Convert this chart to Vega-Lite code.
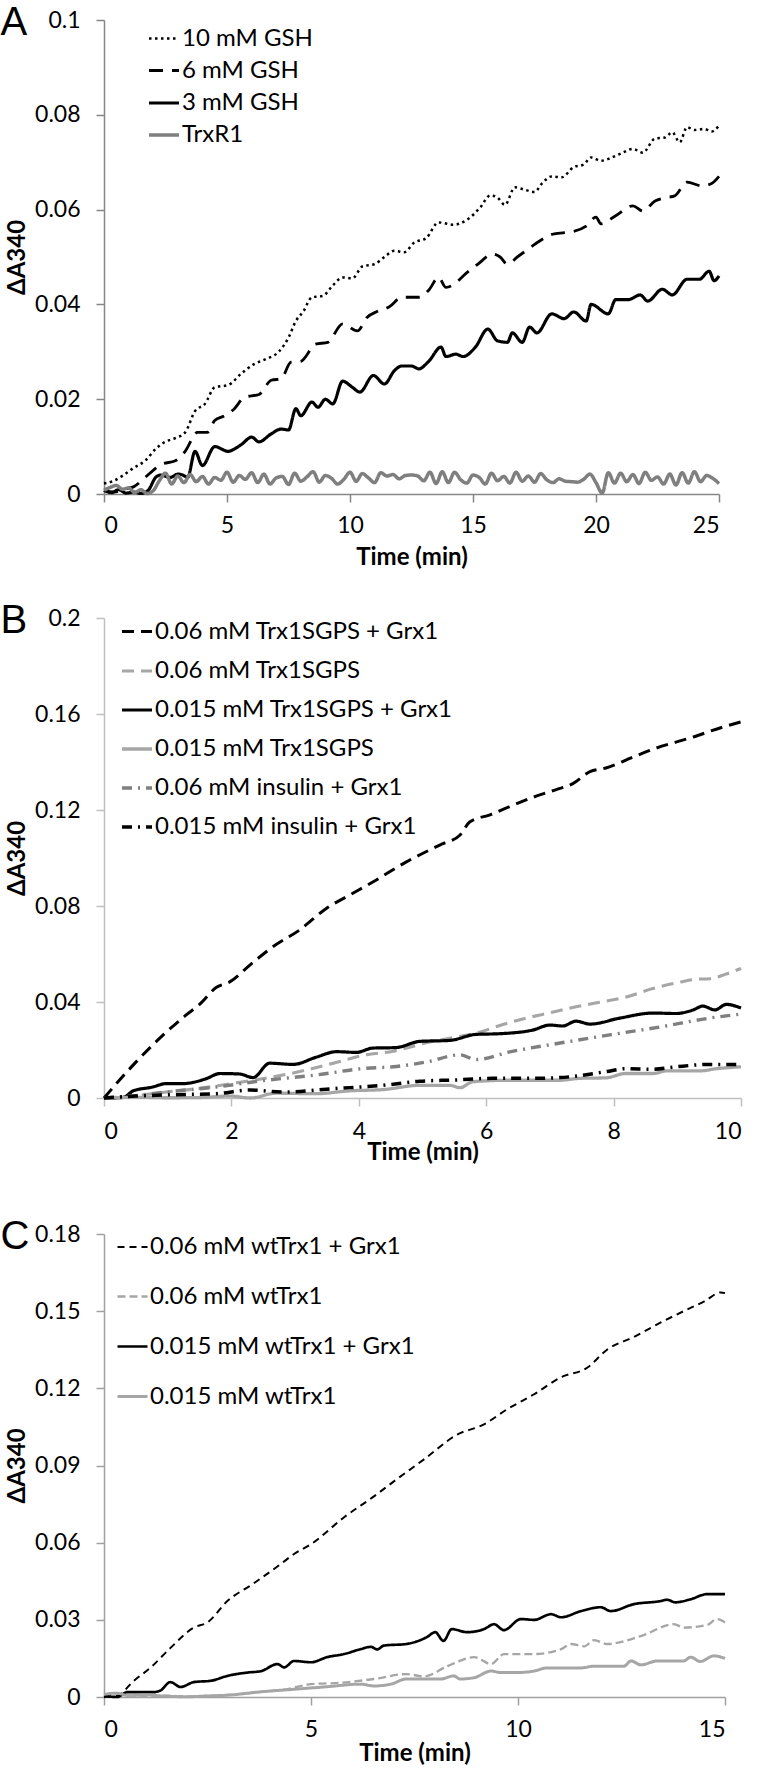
{
"$schema": "https://vega.github.io/schema/vega-lite/v6.json",
"padding": {"left": 0, "top": 3, "right": 0, "bottom": 0},
"background": "white",
"config": {
 "font": "Lato",
 "view": {"stroke": null},
 "axis": {"grid": false, "labelFont": "Lato", "labelFontSize": 23, "labelColor": "#000", "titleFont": "Lato", "titleFontSize": 24, "titleFontWeight": "bold", "titleColor": "#000", "tickSize": 8, "domainWidth": 1.5, "tickWidth": 1.5},
 "axisX": {"labelPadding": 12, "titlePadding": 6},
 "axisY": {"labelPadding": 16, "titlePadding": 5},
 "title": {"font": "Liberation Sans", "fontSize": 40, "fontWeight": "normal", "anchor": "start", "frame": "bounds", "offset": 0, "color": "#000"},
 "legend": {"title": null, "orient": "none", "symbolType": "stroke", "symbolSize": 900, "labelFont": "Lato", "labelFontSize": 24, "labelColor": "#000", "labelOffset": 1, "padding": 0, "labelLimit": 600}
},
"datasets": {
"A": [
{"s":"10 mM GSH","t":0,"v":0.0022},{"s":"10 mM GSH","t":0.4,"v":0.0028},{"s":"10 mM GSH","t":0.8,"v":0.004},{"s":"10 mM GSH","t":1.2,"v":0.0055},{"s":"10 mM GSH","t":1.67,"v":0.007},{"s":"10 mM GSH","t":2.1,"v":0.0095},{"s":"10 mM GSH","t":2.48,"v":0.011},{"s":"10 mM GSH","t":2.9,"v":0.0118},{"s":"10 mM GSH","t":3.3,"v":0.013},{"s":"10 mM GSH","t":3.7,"v":0.0175},{"s":"10 mM GSH","t":4.1,"v":0.019},{"s":"10 mM GSH","t":4.5,"v":0.0225},{"s":"10 mM GSH","t":5.05,"v":0.023},{"s":"10 mM GSH","t":5.6,"v":0.0255},{"s":"10 mM GSH","t":6.1,"v":0.0274},{"s":"10 mM GSH","t":6.6,"v":0.0285},{"s":"10 mM GSH","t":7.1,"v":0.03},{"s":"10 mM GSH","t":7.5,"v":0.033},{"s":"10 mM GSH","t":7.8,"v":0.0365},{"s":"10 mM GSH","t":8.1,"v":0.0385},{"s":"10 mM GSH","t":8.45,"v":0.0415},{"s":"10 mM GSH","t":8.9,"v":0.0418},{"s":"10 mM GSH","t":9.3,"v":0.044},{"s":"10 mM GSH","t":9.7,"v":0.0457},{"s":"10 mM GSH","t":10.1,"v":0.0455},{"s":"10 mM GSH","t":10.5,"v":0.048},{"s":"10 mM GSH","t":11,"v":0.0485},{"s":"10 mM GSH","t":11.4,"v":0.05},{"s":"10 mM GSH","t":11.8,"v":0.0513},{"s":"10 mM GSH","t":12.2,"v":0.051},{"s":"10 mM GSH","t":12.6,"v":0.053},{"s":"10 mM GSH","t":13.1,"v":0.054},{"s":"10 mM GSH","t":13.6,"v":0.0573},{"s":"10 mM GSH","t":14.2,"v":0.0568},{"s":"10 mM GSH","t":14.8,"v":0.058},{"s":"10 mM GSH","t":15.3,"v":0.0605},{"s":"10 mM GSH","t":15.7,"v":0.063},{"s":"10 mM GSH","t":16,"v":0.0625},{"s":"10 mM GSH","t":16.3,"v":0.061},{"s":"10 mM GSH","t":16.7,"v":0.0647},{"s":"10 mM GSH","t":17.1,"v":0.0642},{"s":"10 mM GSH","t":17.5,"v":0.0637},{"s":"10 mM GSH","t":17.8,"v":0.0655},{"s":"10 mM GSH","t":18.2,"v":0.067},{"s":"10 mM GSH","t":18.6,"v":0.0668},{"s":"10 mM GSH","t":19.1,"v":0.069},{"s":"10 mM GSH","t":19.5,"v":0.0695},{"s":"10 mM GSH","t":19.8,"v":0.071},{"s":"10 mM GSH","t":20.2,"v":0.0703},{"s":"10 mM GSH","t":20.5,"v":0.0707},{"s":"10 mM GSH","t":21,"v":0.0718},{"s":"10 mM GSH","t":21.5,"v":0.0728},{"s":"10 mM GSH","t":21.9,"v":0.072},{"s":"10 mM GSH","t":22.4,"v":0.075},{"s":"10 mM GSH","t":22.8,"v":0.0752},{"s":"10 mM GSH","t":23.1,"v":0.0763},{"s":"10 mM GSH","t":23.4,"v":0.0742},{"s":"10 mM GSH","t":23.7,"v":0.0774},{"s":"10 mM GSH","t":24,"v":0.0768},{"s":"10 mM GSH","t":24.4,"v":0.077},{"s":"10 mM GSH","t":24.7,"v":0.0765},{"s":"10 mM GSH","t":25,"v":0.0777},
{"s":"6 mM GSH","t":0,"v":0.0007},{"s":"6 mM GSH","t":0.4,"v":0.0004},{"s":"6 mM GSH","t":0.8,"v":0.001},{"s":"6 mM GSH","t":1.2,"v":0.0015},{"s":"6 mM GSH","t":1.67,"v":0.0035},{"s":"6 mM GSH","t":2,"v":0.005},{"s":"6 mM GSH","t":2.35,"v":0.0063},{"s":"6 mM GSH","t":2.9,"v":0.007},{"s":"6 mM GSH","t":3.3,"v":0.009},{"s":"6 mM GSH","t":3.8,"v":0.013},{"s":"6 mM GSH","t":4.2,"v":0.013},{"s":"6 mM GSH","t":4.5,"v":0.0155},{"s":"6 mM GSH","t":4.9,"v":0.0165},{"s":"6 mM GSH","t":5.3,"v":0.018},{"s":"6 mM GSH","t":5.7,"v":0.0204},{"s":"6 mM GSH","t":6.3,"v":0.021},{"s":"6 mM GSH","t":6.8,"v":0.024},{"s":"6 mM GSH","t":7.2,"v":0.0243},{"s":"6 mM GSH","t":7.6,"v":0.0278},{"s":"6 mM GSH","t":8,"v":0.028},{"s":"6 mM GSH","t":8.6,"v":0.0316},{"s":"6 mM GSH","t":9.1,"v":0.032},{"s":"6 mM GSH","t":9.7,"v":0.0359},{"s":"6 mM GSH","t":10.3,"v":0.0344},{"s":"6 mM GSH","t":10.7,"v":0.0373},{"s":"6 mM GSH","t":11.1,"v":0.0385},{"s":"6 mM GSH","t":11.6,"v":0.0395},{"s":"6 mM GSH","t":12.1,"v":0.0415},{"s":"6 mM GSH","t":12.8,"v":0.0415},{"s":"6 mM GSH","t":13.2,"v":0.043},{"s":"6 mM GSH","t":13.6,"v":0.0457},{"s":"6 mM GSH","t":13.9,"v":0.0436},{"s":"6 mM GSH","t":14.3,"v":0.0445},{"s":"6 mM GSH","t":14.6,"v":0.046},{"s":"6 mM GSH","t":15.2,"v":0.0485},{"s":"6 mM GSH","t":15.8,"v":0.0506},{"s":"6 mM GSH","t":16.1,"v":0.05},{"s":"6 mM GSH","t":16.4,"v":0.0485},{"s":"6 mM GSH","t":16.8,"v":0.05},{"s":"6 mM GSH","t":17.2,"v":0.0515},{"s":"6 mM GSH","t":17.6,"v":0.053},{"s":"6 mM GSH","t":18.3,"v":0.0549},{"s":"6 mM GSH","t":19,"v":0.0553},{"s":"6 mM GSH","t":19.6,"v":0.0565},{"s":"6 mM GSH","t":20,"v":0.0584},{"s":"6 mM GSH","t":20.2,"v":0.057},{"s":"6 mM GSH","t":20.8,"v":0.0587},{"s":"6 mM GSH","t":21.5,"v":0.0608},{"s":"6 mM GSH","t":21.9,"v":0.0597},{"s":"6 mM GSH","t":22.4,"v":0.0618},{"s":"6 mM GSH","t":22.8,"v":0.0625},{"s":"6 mM GSH","t":23.2,"v":0.0629},{"s":"6 mM GSH","t":23.7,"v":0.0658},{"s":"6 mM GSH","t":24.3,"v":0.065},{"s":"6 mM GSH","t":24.7,"v":0.0655},{"s":"6 mM GSH","t":25,"v":0.067},
{"s":"3 mM GSH","t":0,"v":0.0008},{"s":"3 mM GSH","t":0.3,"v":0.0003},{"s":"3 mM GSH","t":0.6,"v":0.0009},{"s":"3 mM GSH","t":0.9,"v":0.0002},{"s":"3 mM GSH","t":1.2,"v":0.0004},{"s":"3 mM GSH","t":1.5,"v":0.0001},{"s":"3 mM GSH","t":1.8,"v":0.0008},{"s":"3 mM GSH","t":2.1,"v":0.0035},{"s":"3 mM GSH","t":2.3,"v":0.004},{"s":"3 mM GSH","t":2.7,"v":0.0035},{"s":"3 mM GSH","t":3,"v":0.0042},{"s":"3 mM GSH","t":3.2,"v":0.004},{"s":"3 mM GSH","t":3.4,"v":0.0035},{"s":"3 mM GSH","t":3.7,"v":0.009},{"s":"3 mM GSH","t":4,"v":0.006},{"s":"3 mM GSH","t":4.5,"v":0.01},{"s":"3 mM GSH","t":5.05,"v":0.009},{"s":"3 mM GSH","t":5.3,"v":0.0095},{"s":"3 mM GSH","t":5.6,"v":0.0105},{"s":"3 mM GSH","t":6,"v":0.012},{"s":"3 mM GSH","t":6.3,"v":0.011},{"s":"3 mM GSH","t":6.8,"v":0.0127},{"s":"3 mM GSH","t":7.2,"v":0.0137},{"s":"3 mM GSH","t":7.5,"v":0.0135},{"s":"3 mM GSH","t":7.8,"v":0.018},{"s":"3 mM GSH","t":8,"v":0.0165},{"s":"3 mM GSH","t":8.45,"v":0.0194},{"s":"3 mM GSH","t":8.7,"v":0.0183},{"s":"3 mM GSH","t":9,"v":0.02},{"s":"3 mM GSH","t":9.3,"v":0.019},{"s":"3 mM GSH","t":9.7,"v":0.0238},{"s":"3 mM GSH","t":10.1,"v":0.0225},{"s":"3 mM GSH","t":10.4,"v":0.0215},{"s":"3 mM GSH","t":10.95,"v":0.025},{"s":"3 mM GSH","t":11.4,"v":0.0232},{"s":"3 mM GSH","t":11.8,"v":0.026},{"s":"3 mM GSH","t":12.1,"v":0.027},{"s":"3 mM GSH","t":12.5,"v":0.027},{"s":"3 mM GSH","t":12.8,"v":0.0264},{"s":"3 mM GSH","t":13.2,"v":0.028},{"s":"3 mM GSH","t":13.7,"v":0.031},{"s":"3 mM GSH","t":13.9,"v":0.029},{"s":"3 mM GSH","t":14.3,"v":0.0295},{"s":"3 mM GSH","t":14.6,"v":0.029},{"s":"3 mM GSH","t":15.1,"v":0.031},{"s":"3 mM GSH","t":15.6,"v":0.0348},{"s":"3 mM GSH","t":16,"v":0.0323},{"s":"3 mM GSH","t":16.4,"v":0.032},{"s":"3 mM GSH","t":16.6,"v":0.034},{"s":"3 mM GSH","t":17,"v":0.032},{"s":"3 mM GSH","t":17.3,"v":0.0352},{"s":"3 mM GSH","t":17.6,"v":0.034},{"s":"3 mM GSH","t":18.2,"v":0.038},{"s":"3 mM GSH","t":18.7,"v":0.037},{"s":"3 mM GSH","t":19.1,"v":0.0384},{"s":"3 mM GSH","t":19.6,"v":0.0365},{"s":"3 mM GSH","t":19.8,"v":0.04},{"s":"3 mM GSH","t":20.5,"v":0.038},{"s":"3 mM GSH","t":20.8,"v":0.041},{"s":"3 mM GSH","t":21.3,"v":0.041},{"s":"3 mM GSH","t":21.8,"v":0.042},{"s":"3 mM GSH","t":22.1,"v":0.0407},{"s":"3 mM GSH","t":22.7,"v":0.0432},{"s":"3 mM GSH","t":23.1,"v":0.042},{"s":"3 mM GSH","t":23.7,"v":0.0453},{"s":"3 mM GSH","t":24.2,"v":0.0453},{"s":"3 mM GSH","t":24.6,"v":0.047},{"s":"3 mM GSH","t":24.8,"v":0.045},{"s":"3 mM GSH","t":25,"v":0.046},
{"s":"TrxR1","t":0,"v":0.0008},{"s":"TrxR1","t":0.25,"v":0.0014},{"s":"TrxR1","t":0.5,"v":0.0018},{"s":"TrxR1","t":0.75,"v":0.001},{"s":"TrxR1","t":1,"v":0.0013},{"s":"TrxR1","t":1.25,"v":0.0003},{"s":"TrxR1","t":1.5,"v":0.0009},{"s":"TrxR1","t":1.75,"v":0.0001},{"s":"TrxR1","t":2,"v":0.0007},{"s":"TrxR1","t":2.25,"v":0.0028},{"s":"TrxR1","t":2.5,"v":0.0044},{"s":"TrxR1","t":2.75,"v":0.0021},{"s":"TrxR1","t":3,"v":0.0038},{"s":"TrxR1","t":3.25,"v":0.0024},{"s":"TrxR1","t":3.5,"v":0.0041},{"s":"TrxR1","t":3.75,"v":0.0026},{"s":"TrxR1","t":4,"v":0.0037},{"s":"TrxR1","t":4.25,"v":0.0021},{"s":"TrxR1","t":4.5,"v":0.0035},{"s":"TrxR1","t":4.75,"v":0.0029},{"s":"TrxR1","t":5,"v":0.0046},{"s":"TrxR1","t":5.25,"v":0.0025},{"s":"TrxR1","t":5.5,"v":0.0039},{"s":"TrxR1","t":5.75,"v":0.0031},{"s":"TrxR1","t":6,"v":0.0045},{"s":"TrxR1","t":6.25,"v":0.0024},{"s":"TrxR1","t":6.5,"v":0.0042},{"s":"TrxR1","t":6.75,"v":0.0021},{"s":"TrxR1","t":7,"v":0.0034},{"s":"TrxR1","t":7.25,"v":0.0037},{"s":"TrxR1","t":7.5,"v":0.002},{"s":"TrxR1","t":7.75,"v":0.0044},{"s":"TrxR1","t":8,"v":0.0027},{"s":"TrxR1","t":8.25,"v":0.0036},{"s":"TrxR1","t":8.5,"v":0.0047},{"s":"TrxR1","t":8.75,"v":0.0025},{"s":"TrxR1","t":9,"v":0.0039},{"s":"TrxR1","t":9.25,"v":0.0033},{"s":"TrxR1","t":9.5,"v":0.0021},{"s":"TrxR1","t":9.75,"v":0.0031},{"s":"TrxR1","t":10,"v":0.0046},{"s":"TrxR1","t":10.25,"v":0.0027},{"s":"TrxR1","t":10.5,"v":0.0043},{"s":"TrxR1","t":10.75,"v":0.0034},{"s":"TrxR1","t":11,"v":0.0024},{"s":"TrxR1","t":11.25,"v":0.0045},{"s":"TrxR1","t":11.5,"v":0.0038},{"s":"TrxR1","t":11.75,"v":0.0041},{"s":"TrxR1","t":12,"v":0.0032},{"s":"TrxR1","t":12.25,"v":0.0039},{"s":"TrxR1","t":12.5,"v":0.004},{"s":"TrxR1","t":12.75,"v":0.0038},{"s":"TrxR1","t":13,"v":0.0028},{"s":"TrxR1","t":13.25,"v":0.0046},{"s":"TrxR1","t":13.5,"v":0.0022},{"s":"TrxR1","t":13.75,"v":0.0047},{"s":"TrxR1","t":14,"v":0.0024},{"s":"TrxR1","t":14.25,"v":0.0046},{"s":"TrxR1","t":14.5,"v":0.003},{"s":"TrxR1","t":14.75,"v":0.0023},{"s":"TrxR1","t":15,"v":0.004},{"s":"TrxR1","t":15.25,"v":0.0035},{"s":"TrxR1","t":15.5,"v":0.0021},{"s":"TrxR1","t":15.75,"v":0.0044},{"s":"TrxR1","t":16,"v":0.0028},{"s":"TrxR1","t":16.25,"v":0.0037},{"s":"TrxR1","t":16.5,"v":0.0023},{"s":"TrxR1","t":16.75,"v":0.0046},{"s":"TrxR1","t":17,"v":0.0027},{"s":"TrxR1","t":17.25,"v":0.0038},{"s":"TrxR1","t":17.5,"v":0.0025},{"s":"TrxR1","t":17.75,"v":0.0043},{"s":"TrxR1","t":18,"v":0.003},{"s":"TrxR1","t":18.25,"v":0.0024},{"s":"TrxR1","t":18.5,"v":0.0032},{"s":"TrxR1","t":18.75,"v":0.0027},{"s":"TrxR1","t":19,"v":0.0026},{"s":"TrxR1","t":19.25,"v":0.0025},{"s":"TrxR1","t":19.5,"v":0.0031},{"s":"TrxR1","t":19.75,"v":0.0042},{"s":"TrxR1","t":20,"v":0.0024},{"s":"TrxR1","t":20.25,"v":0.0002},{"s":"TrxR1","t":20.5,"v":0.0045},{"s":"TrxR1","t":20.75,"v":0.0023},{"s":"TrxR1","t":21,"v":0.0044},{"s":"TrxR1","t":21.25,"v":0.0026},{"s":"TrxR1","t":21.5,"v":0.0041},{"s":"TrxR1","t":21.75,"v":0.0022},{"s":"TrxR1","t":22,"v":0.0046},{"s":"TrxR1","t":22.25,"v":0.0029},{"s":"TrxR1","t":22.5,"v":0.0036},{"s":"TrxR1","t":22.75,"v":0.0021},{"s":"TrxR1","t":23,"v":0.0042},{"s":"TrxR1","t":23.25,"v":0.0019},{"s":"TrxR1","t":23.5,"v":0.0045},{"s":"TrxR1","t":23.75,"v":0.0023},{"s":"TrxR1","t":24,"v":0.0047},{"s":"TrxR1","t":24.25,"v":0.0026},{"s":"TrxR1","t":24.5,"v":0.0039},{"s":"TrxR1","t":24.75,"v":0.0033},{"s":"TrxR1","t":25,"v":0.0022}
],
"B": [
{"s":"0.06 mM Trx1SGPS + Grx1","t":0,"v":0},{"s":"0.06 mM Trx1SGPS + Grx1","t":0.46,"v":0.0138},{"s":"0.06 mM Trx1SGPS + Grx1","t":0.98,"v":0.0275},{"s":"0.06 mM Trx1SGPS + Grx1","t":1.29,"v":0.0346},{"s":"0.06 mM Trx1SGPS + Grx1","t":1.5,"v":0.039},{"s":"0.06 mM Trx1SGPS + Grx1","t":1.76,"v":0.046},{"s":"0.06 mM Trx1SGPS + Grx1","t":1.98,"v":0.0485},{"s":"0.06 mM Trx1SGPS + Grx1","t":2.29,"v":0.0554},{"s":"0.06 mM Trx1SGPS + Grx1","t":2.65,"v":0.063},{"s":"0.06 mM Trx1SGPS + Grx1","t":3.07,"v":0.07},{"s":"0.06 mM Trx1SGPS + Grx1","t":3.49,"v":0.079},{"s":"0.06 mM Trx1SGPS + Grx1","t":3.85,"v":0.0845},{"s":"0.06 mM Trx1SGPS + Grx1","t":4.22,"v":0.09},{"s":"0.06 mM Trx1SGPS + Grx1","t":4.74,"v":0.0983},{"s":"0.06 mM Trx1SGPS + Grx1","t":5.27,"v":0.1054},{"s":"0.06 mM Trx1SGPS + Grx1","t":5.59,"v":0.1096},{"s":"0.06 mM Trx1SGPS + Grx1","t":5.74,"v":0.115},{"s":"0.06 mM Trx1SGPS + Grx1","t":6.06,"v":0.118},{"s":"0.06 mM Trx1SGPS + Grx1","t":6.42,"v":0.122},{"s":"0.06 mM Trx1SGPS + Grx1","t":6.84,"v":0.1263},{"s":"0.06 mM Trx1SGPS + Grx1","t":7.1,"v":0.1285},{"s":"0.06 mM Trx1SGPS + Grx1","t":7.36,"v":0.131},{"s":"0.06 mM Trx1SGPS + Grx1","t":7.63,"v":0.136},{"s":"0.06 mM Trx1SGPS + Grx1","t":7.88,"v":0.1375},{"s":"0.06 mM Trx1SGPS + Grx1","t":8.3,"v":0.142},{"s":"0.06 mM Trx1SGPS + Grx1","t":8.67,"v":0.1458},{"s":"0.06 mM Trx1SGPS + Grx1","t":9.2,"v":0.15},{"s":"0.06 mM Trx1SGPS + Grx1","t":9.72,"v":0.1546},{"s":"0.06 mM Trx1SGPS + Grx1","t":10,"v":0.1567},
{"s":"0.06 mM Trx1SGPS","t":0,"v":0},{"s":"0.06 mM Trx1SGPS","t":0.5,"v":0.001},{"s":"0.06 mM Trx1SGPS","t":0.98,"v":0.0025},{"s":"0.06 mM Trx1SGPS","t":1.5,"v":0.004},{"s":"0.06 mM Trx1SGPS","t":2,"v":0.006},{"s":"0.06 mM Trx1SGPS","t":2.55,"v":0.0083},{"s":"0.06 mM Trx1SGPS","t":3.07,"v":0.011},{"s":"0.06 mM Trx1SGPS","t":3.6,"v":0.0145},{"s":"0.06 mM Trx1SGPS","t":4.12,"v":0.018},{"s":"0.06 mM Trx1SGPS","t":4.54,"v":0.0195},{"s":"0.06 mM Trx1SGPS","t":5.06,"v":0.023},{"s":"0.06 mM Trx1SGPS","t":5.45,"v":0.025},{"s":"0.06 mM Trx1SGPS","t":5.84,"v":0.027},{"s":"0.06 mM Trx1SGPS","t":6.25,"v":0.0305},{"s":"0.06 mM Trx1SGPS","t":6.63,"v":0.0333},{"s":"0.06 mM Trx1SGPS","t":7,"v":0.0355},{"s":"0.06 mM Trx1SGPS","t":7.41,"v":0.038},{"s":"0.06 mM Trx1SGPS","t":7.8,"v":0.04},{"s":"0.06 mM Trx1SGPS","t":8.19,"v":0.042},{"s":"0.06 mM Trx1SGPS","t":8.6,"v":0.0455},{"s":"0.06 mM Trx1SGPS","t":8.98,"v":0.0479},{"s":"0.06 mM Trx1SGPS","t":9.3,"v":0.0495},{"s":"0.06 mM Trx1SGPS","t":9.51,"v":0.0497},{"s":"0.06 mM Trx1SGPS","t":9.75,"v":0.0515},{"s":"0.06 mM Trx1SGPS","t":10,"v":0.054},
{"s":"0.015 mM Trx1SGPS + Grx1","t":0,"v":0},{"s":"0.015 mM Trx1SGPS + Grx1","t":0.3,"v":0.0002},{"s":"0.015 mM Trx1SGPS + Grx1","t":0.46,"v":0.003},{"s":"0.015 mM Trx1SGPS + Grx1","t":0.75,"v":0.0045},{"s":"0.015 mM Trx1SGPS + Grx1","t":0.98,"v":0.006},{"s":"0.015 mM Trx1SGPS + Grx1","t":1.24,"v":0.006},{"s":"0.015 mM Trx1SGPS + Grx1","t":1.6,"v":0.008},{"s":"0.015 mM Trx1SGPS + Grx1","t":1.82,"v":0.0102},{"s":"0.015 mM Trx1SGPS + Grx1","t":2.13,"v":0.01},{"s":"0.015 mM Trx1SGPS + Grx1","t":2.34,"v":0.0085},{"s":"0.015 mM Trx1SGPS + Grx1","t":2.6,"v":0.0145},{"s":"0.015 mM Trx1SGPS + Grx1","t":2.97,"v":0.014},{"s":"0.015 mM Trx1SGPS + Grx1","t":3.33,"v":0.017},{"s":"0.015 mM Trx1SGPS + Grx1","t":3.65,"v":0.0193},{"s":"0.015 mM Trx1SGPS + Grx1","t":3.96,"v":0.019},{"s":"0.015 mM Trx1SGPS + Grx1","t":4.22,"v":0.0208},{"s":"0.015 mM Trx1SGPS + Grx1","t":4.58,"v":0.021},{"s":"0.015 mM Trx1SGPS + Grx1","t":4.96,"v":0.0236},{"s":"0.015 mM Trx1SGPS + Grx1","t":5.43,"v":0.024},{"s":"0.015 mM Trx1SGPS + Grx1","t":5.84,"v":0.0265},{"s":"0.015 mM Trx1SGPS + Grx1","t":6.22,"v":0.0268},{"s":"0.015 mM Trx1SGPS + Grx1","t":6.73,"v":0.0283},{"s":"0.015 mM Trx1SGPS + Grx1","t":7,"v":0.0304},{"s":"0.015 mM Trx1SGPS + Grx1","t":7.2,"v":0.03},{"s":"0.015 mM Trx1SGPS + Grx1","t":7.41,"v":0.032},{"s":"0.015 mM Trx1SGPS + Grx1","t":7.63,"v":0.0308},{"s":"0.015 mM Trx1SGPS + Grx1","t":8.1,"v":0.0333},{"s":"0.015 mM Trx1SGPS + Grx1","t":8.62,"v":0.0354},{"s":"0.015 mM Trx1SGPS + Grx1","t":8.98,"v":0.0352},{"s":"0.015 mM Trx1SGPS + Grx1","t":9.25,"v":0.0367},{"s":"0.015 mM Trx1SGPS + Grx1","t":9.4,"v":0.0383},{"s":"0.015 mM Trx1SGPS + Grx1","t":9.59,"v":0.0367},{"s":"0.015 mM Trx1SGPS + Grx1","t":9.77,"v":0.039},{"s":"0.015 mM Trx1SGPS + Grx1","t":10,"v":0.0375},
{"s":"0.015 mM Trx1SGPS","t":0,"v":0},{"s":"0.015 mM Trx1SGPS","t":0.5,"v":0.0003},{"s":"0.015 mM Trx1SGPS","t":1,"v":0.0001},{"s":"0.015 mM Trx1SGPS","t":1.5,"v":0.0002},{"s":"0.015 mM Trx1SGPS","t":1.98,"v":0.0008},{"s":"0.015 mM Trx1SGPS","t":2.3,"v":0},{"s":"0.015 mM Trx1SGPS","t":2.7,"v":0.002},{"s":"0.015 mM Trx1SGPS","t":3.33,"v":0.0018},{"s":"0.015 mM Trx1SGPS","t":3.86,"v":0.003},{"s":"0.015 mM Trx1SGPS","t":4.38,"v":0.0035},{"s":"0.015 mM Trx1SGPS","t":4.96,"v":0.0053},{"s":"0.015 mM Trx1SGPS","t":5.43,"v":0.0053},{"s":"0.015 mM Trx1SGPS","t":5.59,"v":0.0043},{"s":"0.015 mM Trx1SGPS","t":5.79,"v":0.0068},{"s":"0.015 mM Trx1SGPS","t":6.37,"v":0.0074},{"s":"0.015 mM Trx1SGPS","t":7.16,"v":0.0074},{"s":"0.015 mM Trx1SGPS","t":7.47,"v":0.0082},{"s":"0.015 mM Trx1SGPS","t":7.88,"v":0.0084},{"s":"0.015 mM Trx1SGPS","t":8.19,"v":0.0102},{"s":"0.015 mM Trx1SGPS","t":8.62,"v":0.0102},{"s":"0.015 mM Trx1SGPS","t":8.83,"v":0.0113},{"s":"0.015 mM Trx1SGPS","t":9.36,"v":0.0113},{"s":"0.015 mM Trx1SGPS","t":9.61,"v":0.0122},{"s":"0.015 mM Trx1SGPS","t":10,"v":0.013},
{"s":"0.06 mM insulin + Grx1","t":0,"v":0},{"s":"0.06 mM insulin + Grx1","t":0.5,"v":0.001},{"s":"0.06 mM insulin + Grx1","t":0.98,"v":0.0025},{"s":"0.06 mM insulin + Grx1","t":1.76,"v":0.0046},{"s":"0.06 mM insulin + Grx1","t":2.55,"v":0.0074},{"s":"0.06 mM insulin + Grx1","t":3.33,"v":0.0096},{"s":"0.06 mM insulin + Grx1","t":4.12,"v":0.0124},{"s":"0.06 mM insulin + Grx1","t":4.54,"v":0.013},{"s":"0.06 mM insulin + Grx1","t":5.06,"v":0.015},{"s":"0.06 mM insulin + Grx1","t":5.59,"v":0.018},{"s":"0.06 mM insulin + Grx1","t":5.84,"v":0.016},{"s":"0.06 mM insulin + Grx1","t":6.37,"v":0.0192},{"s":"0.06 mM insulin + Grx1","t":7.16,"v":0.0229},{"s":"0.06 mM insulin + Grx1","t":7.94,"v":0.0263},{"s":"0.06 mM insulin + Grx1","t":8.73,"v":0.0296},{"s":"0.06 mM insulin + Grx1","t":9.51,"v":0.0333},{"s":"0.06 mM insulin + Grx1","t":10,"v":0.035},
{"s":"0.015 mM insulin + Grx1","t":0,"v":0},{"s":"0.015 mM insulin + Grx1","t":0.5,"v":0.0008},{"s":"0.015 mM insulin + Grx1","t":0.98,"v":0.0013},{"s":"0.015 mM insulin + Grx1","t":1.76,"v":0.0018},{"s":"0.015 mM insulin + Grx1","t":2.29,"v":0.0033},{"s":"0.015 mM insulin + Grx1","t":2.81,"v":0.0025},{"s":"0.015 mM insulin + Grx1","t":3.6,"v":0.0039},{"s":"0.015 mM insulin + Grx1","t":4.38,"v":0.0053},{"s":"0.015 mM insulin + Grx1","t":4.96,"v":0.007},{"s":"0.015 mM insulin + Grx1","t":5.5,"v":0.0075},{"s":"0.015 mM insulin + Grx1","t":6.1,"v":0.0082},{"s":"0.015 mM insulin + Grx1","t":6.78,"v":0.0082},{"s":"0.015 mM insulin + Grx1","t":7.3,"v":0.0088},{"s":"0.015 mM insulin + Grx1","t":7.88,"v":0.011},{"s":"0.015 mM insulin + Grx1","t":8.19,"v":0.0122},{"s":"0.015 mM insulin + Grx1","t":8.62,"v":0.012},{"s":"0.015 mM insulin + Grx1","t":8.98,"v":0.013},{"s":"0.015 mM insulin + Grx1","t":9.51,"v":0.014},{"s":"0.015 mM insulin + Grx1","t":10,"v":0.014}
],
"C": [
{"s":"0.06 mM wtTrx1 + Grx1","t":0,"v":0},{"s":"0.06 mM wtTrx1 + Grx1","t":0.32,"v":0.0005},{"s":"0.06 mM wtTrx1 + Grx1","t":0.72,"v":0.0063},{"s":"0.06 mM wtTrx1 + Grx1","t":1.13,"v":0.0115},{"s":"0.06 mM wtTrx1 + Grx1","t":1.6,"v":0.019},{"s":"0.06 mM wtTrx1 + Grx1","t":2.17,"v":0.027},{"s":"0.06 mM wtTrx1 + Grx1","t":2.5,"v":0.029},{"s":"0.06 mM wtTrx1 + Grx1","t":2.98,"v":0.0373},{"s":"0.06 mM wtTrx1 + Grx1","t":3.6,"v":0.044},{"s":"0.06 mM wtTrx1 + Grx1","t":4.27,"v":0.0517},{"s":"0.06 mM wtTrx1 + Grx1","t":4.59,"v":0.0556},{"s":"0.06 mM wtTrx1 + Grx1","t":5,"v":0.0594},{"s":"0.06 mM wtTrx1 + Grx1","t":5.8,"v":0.0699},{"s":"0.06 mM wtTrx1 + Grx1","t":6.52,"v":0.078},{"s":"0.06 mM wtTrx1 + Grx1","t":7.1,"v":0.085},{"s":"0.06 mM wtTrx1 + Grx1","t":7.73,"v":0.0924},{"s":"0.06 mM wtTrx1 + Grx1","t":8.53,"v":0.102},{"s":"0.06 mM wtTrx1 + Grx1","t":9.18,"v":0.106},{"s":"0.06 mM wtTrx1 + Grx1","t":9.73,"v":0.1118},{"s":"0.06 mM wtTrx1 + Grx1","t":10.39,"v":0.1177},{"s":"0.06 mM wtTrx1 + Grx1","t":11.04,"v":0.1243},{"s":"0.06 mM wtTrx1 + Grx1","t":11.67,"v":0.128},{"s":"0.06 mM wtTrx1 + Grx1","t":12.15,"v":0.135},{"s":"0.06 mM wtTrx1 + Grx1","t":12.8,"v":0.14},{"s":"0.06 mM wtTrx1 + Grx1","t":13.45,"v":0.1456},{"s":"0.06 mM wtTrx1 + Grx1","t":14,"v":0.15},{"s":"0.06 mM wtTrx1 + Grx1","t":14.5,"v":0.1538},{"s":"0.06 mM wtTrx1 + Grx1","t":14.9,"v":0.1573},{"s":"0.06 mM wtTrx1 + Grx1","t":15,"v":0.157},
{"s":"0.06 mM wtTrx1","t":0,"v":0.0005},{"s":"0.06 mM wtTrx1","t":0.2,"v":0.0015},{"s":"0.06 mM wtTrx1","t":0.5,"v":0.0008},{"s":"0.06 mM wtTrx1","t":1,"v":0.0002},{"s":"0.06 mM wtTrx1","t":1.5,"v":0.0005},{"s":"0.06 mM wtTrx1","t":2,"v":0.0002},{"s":"0.06 mM wtTrx1","t":2.5,"v":0.0004},{"s":"0.06 mM wtTrx1","t":3,"v":0.0008},{"s":"0.06 mM wtTrx1","t":3.8,"v":0.002},{"s":"0.06 mM wtTrx1","t":4.4,"v":0.003},{"s":"0.06 mM wtTrx1","t":5,"v":0.005},{"s":"0.06 mM wtTrx1","t":5.7,"v":0.0055},{"s":"0.06 mM wtTrx1","t":6.52,"v":0.007},{"s":"0.06 mM wtTrx1","t":7.3,"v":0.0089},{"s":"0.06 mM wtTrx1","t":7.73,"v":0.008},{"s":"0.06 mM wtTrx1","t":8.3,"v":0.012},{"s":"0.06 mM wtTrx1","t":8.94,"v":0.0155},{"s":"0.06 mM wtTrx1","t":9.35,"v":0.0128},{"s":"0.06 mM wtTrx1","t":9.66,"v":0.0167},{"s":"0.06 mM wtTrx1","t":10.39,"v":0.0167},{"s":"0.06 mM wtTrx1","t":11.04,"v":0.0186},{"s":"0.06 mM wtTrx1","t":11.28,"v":0.0206},{"s":"0.06 mM wtTrx1","t":11.6,"v":0.0197},{"s":"0.06 mM wtTrx1","t":11.84,"v":0.0221},{"s":"0.06 mM wtTrx1","t":12.15,"v":0.0206},{"s":"0.06 mM wtTrx1","t":12.97,"v":0.0237},{"s":"0.06 mM wtTrx1","t":13.77,"v":0.0283},{"s":"0.06 mM wtTrx1","t":14,"v":0.027},{"s":"0.06 mM wtTrx1","t":14.57,"v":0.028},{"s":"0.06 mM wtTrx1","t":14.8,"v":0.0303},{"s":"0.06 mM wtTrx1","t":15,"v":0.029},
{"s":"0.015 mM wtTrx1 + Grx1","t":0,"v":0.0005},{"s":"0.015 mM wtTrx1 + Grx1","t":0.32,"v":0},{"s":"0.015 mM wtTrx1 + Grx1","t":0.56,"v":0.0019},{"s":"0.015 mM wtTrx1 + Grx1","t":1.2,"v":0.0019},{"s":"0.015 mM wtTrx1 + Grx1","t":1.37,"v":0.0026},{"s":"0.015 mM wtTrx1 + Grx1","t":1.6,"v":0.0058},{"s":"0.015 mM wtTrx1 + Grx1","t":1.85,"v":0.0039},{"s":"0.015 mM wtTrx1 + Grx1","t":2.17,"v":0.0058},{"s":"0.015 mM wtTrx1 + Grx1","t":2.58,"v":0.0063},{"s":"0.015 mM wtTrx1 + Grx1","t":2.98,"v":0.0082},{"s":"0.015 mM wtTrx1 + Grx1","t":3.46,"v":0.0095},{"s":"0.015 mM wtTrx1 + Grx1","t":3.78,"v":0.01},{"s":"0.015 mM wtTrx1 + Grx1","t":4.19,"v":0.0128},{"s":"0.015 mM wtTrx1 + Grx1","t":4.35,"v":0.0115},{"s":"0.015 mM wtTrx1 + Grx1","t":4.59,"v":0.014},{"s":"0.015 mM wtTrx1 + Grx1","t":5,"v":0.0135},{"s":"0.015 mM wtTrx1 + Grx1","t":5.39,"v":0.0155},{"s":"0.015 mM wtTrx1 + Grx1","t":5.8,"v":0.0167},{"s":"0.015 mM wtTrx1 + Grx1","t":6.2,"v":0.0186},{"s":"0.015 mM wtTrx1 + Grx1","t":6.45,"v":0.0195},{"s":"0.015 mM wtTrx1 + Grx1","t":6.6,"v":0.0185},{"s":"0.015 mM wtTrx1 + Grx1","t":6.76,"v":0.02},{"s":"0.015 mM wtTrx1 + Grx1","t":7.3,"v":0.0206},{"s":"0.015 mM wtTrx1 + Grx1","t":7.8,"v":0.0233},{"s":"0.015 mM wtTrx1 + Grx1","t":8,"v":0.0252},{"s":"0.015 mM wtTrx1 + Grx1","t":8.2,"v":0.0218},{"s":"0.015 mM wtTrx1 + Grx1","t":8.4,"v":0.0264},{"s":"0.015 mM wtTrx1 + Grx1","t":8.77,"v":0.0252},{"s":"0.015 mM wtTrx1 + Grx1","t":9.18,"v":0.0264},{"s":"0.015 mM wtTrx1 + Grx1","t":9.42,"v":0.0283},{"s":"0.015 mM wtTrx1 + Grx1","t":9.66,"v":0.026},{"s":"0.015 mM wtTrx1 + Grx1","t":10.07,"v":0.0303},{"s":"0.015 mM wtTrx1 + Grx1","t":10.39,"v":0.03},{"s":"0.015 mM wtTrx1 + Grx1","t":10.8,"v":0.0322},{"s":"0.015 mM wtTrx1 + Grx1","t":11.04,"v":0.031},{"s":"0.015 mM wtTrx1 + Grx1","t":11.52,"v":0.0334},{"s":"0.015 mM wtTrx1 + Grx1","t":12,"v":0.0349},{"s":"0.015 mM wtTrx1 + Grx1","t":12.24,"v":0.0334},{"s":"0.015 mM wtTrx1 + Grx1","t":12.8,"v":0.0361},{"s":"0.015 mM wtTrx1 + Grx1","t":13.45,"v":0.0373},{"s":"0.015 mM wtTrx1 + Grx1","t":13.6,"v":0.0378},{"s":"0.015 mM wtTrx1 + Grx1","t":13.8,"v":0.0368},{"s":"0.015 mM wtTrx1 + Grx1","t":14.17,"v":0.038},{"s":"0.015 mM wtTrx1 + Grx1","t":14.57,"v":0.04},{"s":"0.015 mM wtTrx1 + Grx1","t":15,"v":0.04},
{"s":"0.015 mM wtTrx1","t":0,"v":0.001},{"s":"0.015 mM wtTrx1","t":0.3,"v":0.0015},{"s":"0.015 mM wtTrx1","t":0.6,"v":0.0005},{"s":"0.015 mM wtTrx1","t":1,"v":0.0008},{"s":"0.015 mM wtTrx1","t":1.5,"v":0.0003},{"s":"0.015 mM wtTrx1","t":2,"v":0.0001},{"s":"0.015 mM wtTrx1","t":2.5,"v":0.0004},{"s":"0.015 mM wtTrx1","t":2.98,"v":0.0007},{"s":"0.015 mM wtTrx1","t":3.78,"v":0.002},{"s":"0.015 mM wtTrx1","t":4.59,"v":0.003},{"s":"0.015 mM wtTrx1","t":5.39,"v":0.004},{"s":"0.015 mM wtTrx1","t":6.2,"v":0.005},{"s":"0.015 mM wtTrx1","t":6.52,"v":0.0043},{"s":"0.015 mM wtTrx1","t":6.93,"v":0.005},{"s":"0.015 mM wtTrx1","t":7.3,"v":0.007},{"s":"0.015 mM wtTrx1","t":8.13,"v":0.007},{"s":"0.015 mM wtTrx1","t":8.45,"v":0.0082},{"s":"0.015 mM wtTrx1","t":8.6,"v":0.007},{"s":"0.015 mM wtTrx1","t":8.94,"v":0.0075},{"s":"0.015 mM wtTrx1","t":9.35,"v":0.0101},{"s":"0.015 mM wtTrx1","t":9.58,"v":0.0095},{"s":"0.015 mM wtTrx1","t":9.98,"v":0.0095},{"s":"0.015 mM wtTrx1","t":10.39,"v":0.0101},{"s":"0.015 mM wtTrx1","t":10.7,"v":0.0113},{"s":"0.015 mM wtTrx1","t":11.52,"v":0.0113},{"s":"0.015 mM wtTrx1","t":11.84,"v":0.012},{"s":"0.015 mM wtTrx1","t":12.56,"v":0.012},{"s":"0.015 mM wtTrx1","t":12.73,"v":0.014},{"s":"0.015 mM wtTrx1","t":12.97,"v":0.0125},{"s":"0.015 mM wtTrx1","t":13.36,"v":0.014},{"s":"0.015 mM wtTrx1","t":14,"v":0.014},{"s":"0.015 mM wtTrx1","t":14.17,"v":0.0155},{"s":"0.015 mM wtTrx1","t":14.4,"v":0.0138},{"s":"0.015 mM wtTrx1","t":14.73,"v":0.016},{"s":"0.015 mM wtTrx1","t":15,"v":0.015}
]
},
"spacing": 53,
"resolve": {"scale": {"x": "independent", "y": "independent", "color": "independent", "strokeDash": "independent", "strokeWidth": "independent"}, "legend": {"color": "independent", "strokeDash": "independent", "strokeWidth": "independent"}},
"vconcat": [
{
"spacing": 32,
"resolve": {"scale": {"x": "independent", "y": "independent", "color": "independent", "strokeDash": "independent", "strokeWidth": "independent"}, "legend": {"color": "independent", "strokeDash": "independent", "strokeWidth": "independent"}},
"vconcat": [
{
 "width": 615, "height": 474,
 "title": {"text": "A", "dx": -5, "dy": 38},
 "data": {"name": "A"},
 "mark": {"type": "line", "interpolate": "monotone"},
 "encoding": {
  "x": {"field": "t", "type": "quantitative", "scale": {"domain": [0, 25], "nice": false}, "axis": {"values": [0, 5, 10, 15, 20, 25], "title": "Time (min)", "titlePadding": 8, "domainColor": "#868686", "tickColor": "#868686"}},
  "y": {"field": "v", "type": "quantitative", "scale": {"domain": [0, 0.1], "nice": false}, "axis": {"values": [0, 0.02, 0.04, 0.06, 0.08, 0.1], "title": "ΔA340", "labelExpr": "format(datum.value, '.2~f')", "domainColor": "#868686", "tickColor": "#868686"}},
  "color": {"field": "s", "type": "nominal", "scale": {"domain": ["10 mM GSH", "6 mM GSH", "3 mM GSH", "TrxR1"], "range": ["#000000", "#000000", "#000000", "#7f7f7f"]}, "legend": {"legendX": 43, "legendY": 2, "rowPadding": 3}},
  "strokeDash": {"field": "s", "type": "nominal", "scale": {"domain": ["10 mM GSH", "6 mM GSH", "3 mM GSH", "TrxR1"], "range": [[2.5, 3.5], [14, 9], [1, 0], [1, 0]]}, "legend": {"legendX": 43, "legendY": 2, "rowPadding": 3}},
  "strokeWidth": {"field": "s", "type": "nominal", "scale": {"domain": ["10 mM GSH", "6 mM GSH", "3 mM GSH", "TrxR1"], "range": [2.5, 3.5, 3, 3]}, "legend": {"legendX": 43, "legendY": 2, "rowPadding": 3}}
 }
},
{
 "width": 637, "height": 480,
 "title": {"text": "B", "dx": -5, "dy": 38},
 "data": {"name": "B"},
 "mark": {"type": "line", "interpolate": "monotone"},
 "encoding": {
  "x": {"field": "t", "type": "quantitative", "scale": {"domain": [0, 10], "nice": false}, "axis": {"values": [0, 2, 4, 6, 8, 10], "title": "Time (min)", "labelPadding": 14, "titlePadding": -3, "domainColor": "#bfbfbf", "tickColor": "#bfbfbf"}},
  "y": {"field": "v", "type": "quantitative", "scale": {"domain": [0, 0.2], "nice": false}, "axis": {"values": [0, 0.04, 0.08, 0.12, 0.16, 0.2], "title": "ΔA340", "labelExpr": "format(datum.value, '.2~f')", "domainColor": "#bfbfbf", "tickColor": "#bfbfbf"}},
  "color": {"field": "s", "type": "nominal", "scale": {"domain": ["0.06 mM Trx1SGPS + Grx1", "0.06 mM Trx1SGPS", "0.015 mM Trx1SGPS + Grx1", "0.015 mM Trx1SGPS", "0.06 mM insulin + Grx1", "0.015 mM insulin + Grx1"], "range": ["#000000", "#a6a6a6", "#000000", "#a6a6a6", "#7f7f7f", "#000000"]}, "legend": {"legendX": 16, "legendY": -3, "rowPadding": 10}},
  "strokeDash": {"field": "s", "type": "nominal", "scale": {"domain": ["0.06 mM Trx1SGPS + Grx1", "0.06 mM Trx1SGPS", "0.015 mM Trx1SGPS + Grx1", "0.015 mM Trx1SGPS", "0.06 mM insulin + Grx1", "0.015 mM insulin + Grx1"], "range": [[12, 7], [12, 7], [1, 0], [1, 0], [10, 6, 2, 6], [10, 6, 2, 6]]}, "legend": {"legendX": 16, "legendY": -3, "rowPadding": 10}},
  "strokeWidth": {"field": "s", "type": "nominal", "scale": {"domain": ["0.06 mM Trx1SGPS + Grx1", "0.06 mM Trx1SGPS", "0.015 mM Trx1SGPS + Grx1", "0.015 mM Trx1SGPS", "0.06 mM insulin + Grx1", "0.015 mM insulin + Grx1"], "range": [3, 3.5, 2.5, 3, 2.5, 2.5]}, "legend": {"legendX": 16, "legendY": -3, "rowPadding": 10}}
 }
}
]
},
{
 "width": 621, "height": 463,
 "title": {"text": "C", "dx": -5, "dy": 38},
 "data": {"name": "C"},
 "mark": {"type": "line", "interpolate": "monotone"},
 "encoding": {
  "x": {"field": "t", "type": "quantitative", "scale": {"domain": [0, 15], "nice": false}, "axis": {"values": [0, 5, 10, 15], "title": "Time (min)", "labelPadding": 13, "titlePadding": 0, "domainColor": "#a0a0a0", "tickColor": "#a0a0a0"}},
  "y": {"field": "v", "type": "quantitative", "scale": {"domain": [0, 0.18], "nice": false}, "axis": {"values": [0, 0.03, 0.06, 0.09, 0.12, 0.15, 0.18], "title": "ΔA340", "labelExpr": "format(datum.value, '.2~f')", "domainColor": "#a0a0a0", "tickColor": "#a0a0a0"}},
  "color": {"field": "s", "type": "nominal", "scale": {"domain": ["0.06 mM wtTrx1 + Grx1", "0.06 mM wtTrx1", "0.015 mM wtTrx1 + Grx1", "0.015 mM wtTrx1"], "range": ["#000000", "#a6a6a6", "#000000", "#a6a6a6"]}, "legend": {"legendX": 12, "legendY": -3, "rowPadding": 21}},
  "strokeDash": {"field": "s", "type": "nominal", "scale": {"domain": ["0.06 mM wtTrx1 + Grx1", "0.06 mM wtTrx1", "0.015 mM wtTrx1 + Grx1", "0.015 mM wtTrx1"], "range": [[7, 5], [8, 4], [1, 0], [1, 0]]}, "legend": {"legendX": 12, "legendY": -3, "rowPadding": 21}},
  "strokeWidth": {"field": "s", "type": "nominal", "scale": {"domain": ["0.06 mM wtTrx1 + Grx1", "0.06 mM wtTrx1", "0.015 mM wtTrx1 + Grx1", "0.015 mM wtTrx1"], "range": [2, 3, 2, 3]}, "legend": {"legendX": 12, "legendY": -3, "rowPadding": 21}}
 }
}
]
}
